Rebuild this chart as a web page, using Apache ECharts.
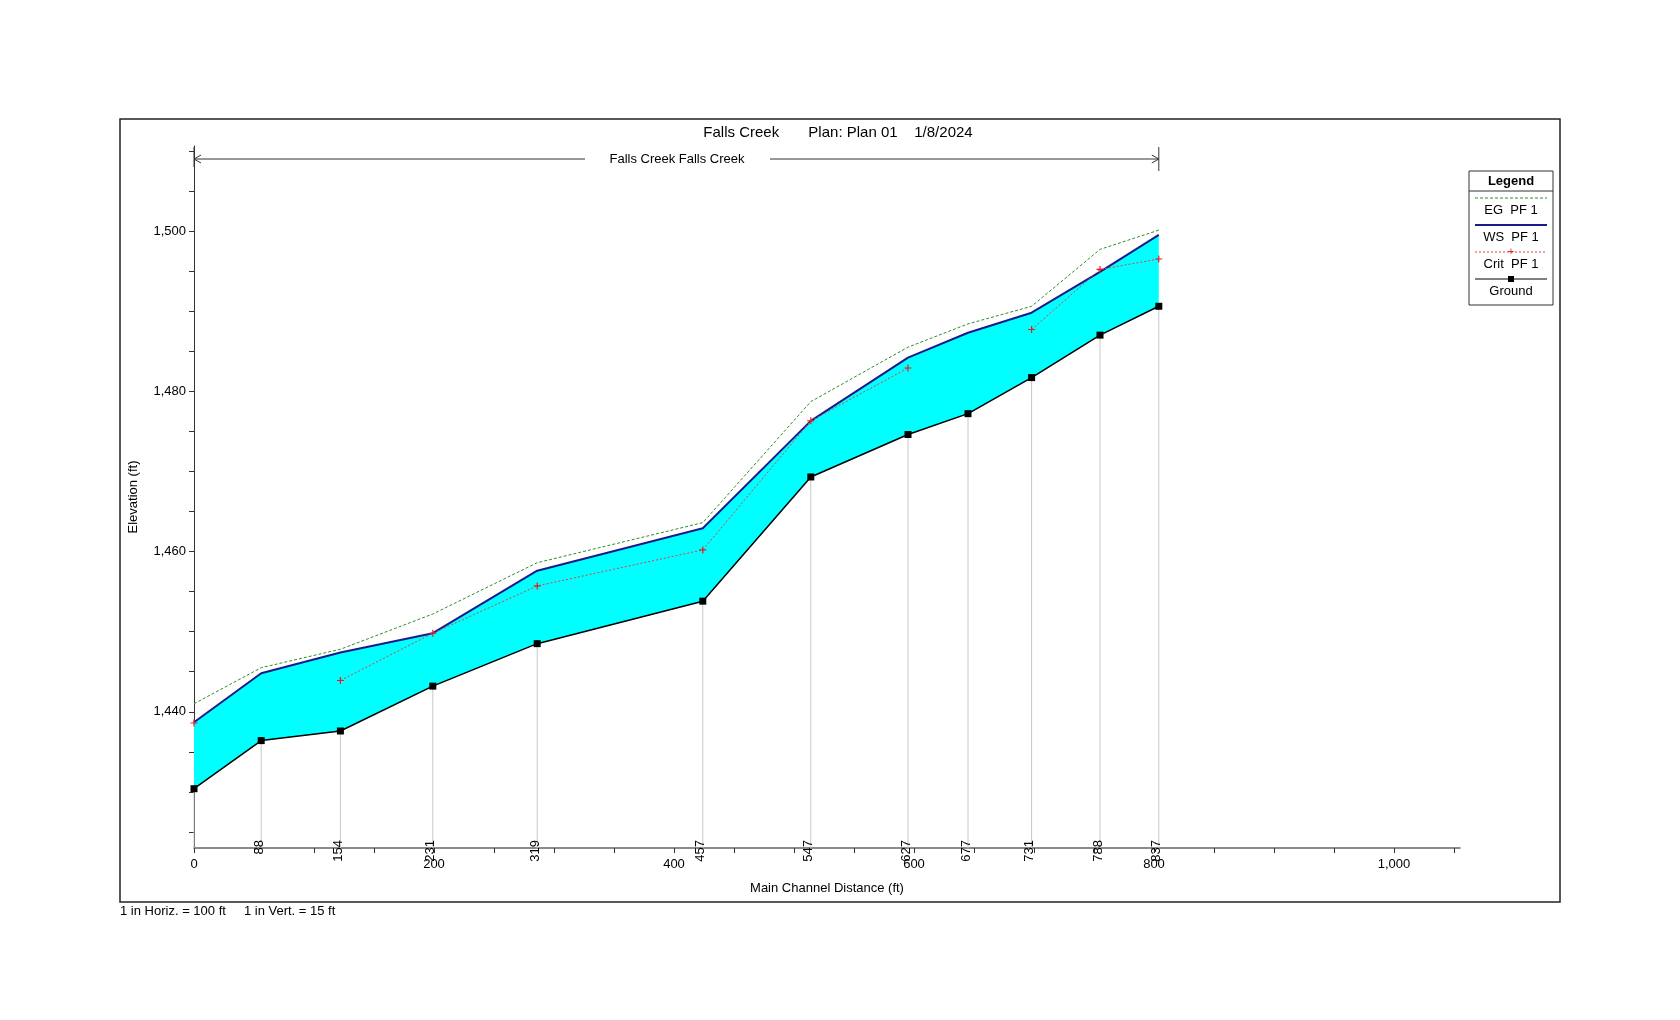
<!DOCTYPE html>
<html><head><meta charset="utf-8">
<script src="https://cdn.jsdelivr.net/npm/echarts@6/dist/echarts.min.js"></script>
<style>html,body{margin:0;background:#fff}#c{width:1680px;height:1020px}</style>
</head><body><div id="c"></div>
<script>
// main channel distance (ft) and river stations
var dist = [0, 56, 122, 199, 286, 424, 514, 595, 645, 698, 755, 804]
var stations = ['', '88', '154', '231', '319', '457', '547', '627', '677', '731', '788', '837']
var ground = [1430.4, 1436.4, 1437.6, 1443.2, 1448.5, 1453.8, 1469.3, 1474.6, 1477.2, 1481.7, 1487.0, 1490.6]
var ws = [1438.7, 1444.8, 1447.4, 1449.8, 1457.6, 1462.9, 1476.3, 1484.2, 1487.3, 1489.8, 1494.9, 1499.5]
var eg = [1441.0, 1445.5, 1447.8, 1452.2, 1458.6, 1463.6, 1478.7, 1485.5, 1488.4, 1490.6, 1497.7, 1500.1]
var crit = [1438.6, null, 1443.9, 1449.8, 1455.7, 1460.2, 1476.3, 1482.9, null, 1487.7, 1495.2, 1496.5]
var yLabels = [1440, 1460, 1480, 1500]
var xLabels = [0, 200, 400, 600, 800, 1000]

function pairs(arr) { return dist.map(function (d, i) { return [d, arr[i]] }) }
var yTicks = []
for (var v = 1425; v <= 1510; v += 5) yTicks.push(v)
var xTicks = []
for (var v = 0; v <= 1050; v += 50) xTicks.push(v)

var chart = echarts.init(document.getElementById('c'))
var font = 'Liberation Sans'
var YMIN = 1423

var option = {
  animation: false,
  textStyle: { fontFamily: font },
  grid: { left: 194, right: 220, top: 146, bottom: 172 },
  xAxis: {
    type: 'value', min: 0, max: 1055,
    name: 'Main Channel Distance (ft)', nameLocation: 'middle', nameGap: 34,
    nameTextStyle: { color: '#000', fontSize: 13 },
    axisLine: { lineStyle: { color: '#666', width: 1.5 } },
    axisTick: { customValues: xTicks, length: 5, lineStyle: { color: '#333' } },
    axisLabel: { customValues: xLabels, color: '#000', fontSize: 13, margin: 10 },
    splitLine: { show: false }
  },
  yAxis: {
    type: 'value', min: YMIN, max: 1510.6,
    name: 'Elevation (ft)', nameLocation: 'middle', nameGap: 54,
    nameTextStyle: { color: '#000', fontSize: 13 },
    axisLine: { show: true, lineStyle: { color: '#333' } },
    axisTick: { show: true, customValues: yTicks, length: 5, lineStyle: { color: '#333' } },
    axisLabel: { customValues: yLabels, color: '#000', fontSize: 13 },
    splitLine: { show: false }
  },
  series: [
    {
      // water between ground and WS
      type: 'custom', z: 1, silent: true,
      data: [0],
      renderItem: function (params, api) {
        var pts = []
        for (var i = 0; i < dist.length; i++) pts.push(api.coord([dist[i], ws[i]]))
        for (var i = dist.length - 1; i >= 0; i--) pts.push(api.coord([dist[i], ground[i]]))
        return { type: 'polygon', shape: { points: pts }, style: { fill: '#00ffff' } }
      }
    },
    {
      // station lines and labels
      type: 'custom', z: 2, silent: true,
      data: pairs(ground),
      renderItem: function (params, api) {
        var top = api.coord([api.value(0), api.value(1)])
        var bot = api.coord([api.value(0), YMIN])
        var name = stations[params.dataIndex]
        return {
          type: 'group', children: [
            { type: 'line', shape: { x1: top[0], y1: top[1], x2: bot[0], y2: bot[1] }, style: { stroke: '#c8c8c8', lineWidth: 1 } },
            { type: 'text', x: top[0] - 2, y: bot[1] - 8, rotation: Math.PI / 2,
              style: { text: name, fontSize: 13, fontFamily: font, fill: '#000', align: 'right', verticalAlign: 'middle' } }
          ]
        }
      }
    },
    { name: 'EG PF 1', type: 'line', z: 3, data: pairs(eg), symbol: 'none',
      lineStyle: { color: '#2e8b2e', width: 1, type: [3, 2] } },
    { name: 'WS PF 1', type: 'line', z: 4, data: pairs(ws), symbol: 'none',
      lineStyle: { color: '#1a1a8c', width: 2 } },
    { name: 'Crit PF 1', type: 'line', z: 5, data: pairs(crit), connectNulls: false,
      symbol: 'path://M-1,0L1,0M0,-1L0,1', symbolSize: 7,
      itemStyle: { color: '#e02020', borderColor: '#e02020', borderWidth: 1.2 },
      lineStyle: { color: '#e04040', width: 1, type: [2, 2] } },
    { name: 'Ground', type: 'line', z: 6, data: pairs(ground), symbol: 'rect', symbolSize: 7,
      itemStyle: { color: '#000' }, lineStyle: { color: '#000', width: 1.5 } }
  ]
}
chart.setOption(option)

var p0 = chart.convertToPixel({ gridIndex: 0 }, [0, 1510.6])
var p1 = chart.convertToPixel({ gridIndex: 0 }, [804, 1510.6])
var ay = 159
var lx = 1469, ly = 171, lw = 84, rowH = 27
var legendItems = [
  { label: 'EG  PF 1', color: '#2e8b2e', dash: [3, 2], mark: null },
  { label: 'WS  PF 1', color: '#1a1a8c', dash: null, mark: null, w: 2 },
  { label: 'Crit  PF 1', color: '#e04040', dash: [2, 2], mark: 'plus' },
  { label: 'Ground', color: '#000', dash: null, mark: 'rect' }
]
var g = [
  { type: 'rect', shape: { x: 120, y: 119, width: 1440, height: 783 }, style: { fill: 'none', stroke: '#222', lineWidth: 1.5 } },
  { type: 'text', x: 838, y: 133, style: { text: 'Falls Creek       Plan: Plan 01    1/8/2024', fontSize: 15, fontFamily: font, fill: '#000', align: 'center', verticalAlign: 'middle' } },
  { type: 'line', shape: { x1: p0[0], y1: ay, x2: 585, y2: ay }, style: { stroke: '#333', lineWidth: 1 } },
  { type: 'line', shape: { x1: 770, y1: ay, x2: p1[0], y2: ay }, style: { stroke: '#333', lineWidth: 1 } },
  { type: 'polyline', shape: { points: [[p0[0] + 7, ay - 4], [p0[0], ay], [p0[0] + 7, ay + 4]] }, style: { stroke: '#333', fill: 'none' } },
  { type: 'polyline', shape: { points: [[p1[0] - 7, ay - 4], [p1[0], ay], [p1[0] - 7, ay + 4]] }, style: { stroke: '#333', fill: 'none' } },
  { type: 'line', shape: { x1: p0[0], y1: ay - 12, x2: p0[0], y2: ay + 8 }, style: { stroke: '#333' } },
  { type: 'line', shape: { x1: p1[0], y1: ay - 12, x2: p1[0], y2: ay + 12 }, style: { stroke: '#333' } },
  { type: 'text', x: 677, y: ay, style: { text: 'Falls Creek Falls Creek', fontSize: 13, fontFamily: font, fill: '#000', align: 'center', verticalAlign: 'middle' } },
  { type: 'text', x: 120, y: 911, style: { text: '1 in Horiz. = 100 ft     1 in Vert. = 15 ft', fontSize: 13, fontFamily: font, fill: '#000', verticalAlign: 'middle' } },
  { type: 'rect', shape: { x: lx, y: ly, width: lw, height: 134 }, style: { fill: '#fff', stroke: '#333', lineWidth: 1 } },
  { type: 'text', x: lx + lw / 2, y: ly + 10, style: { text: 'Legend', fontSize: 13, fontWeight: 'bold', fontFamily: font, fill: '#000', align: 'center', verticalAlign: 'middle' } },
  { type: 'line', shape: { x1: lx, y1: ly + 20, x2: lx + lw, y2: ly + 20 }, style: { stroke: '#333' } }
]
legendItems.forEach(function (it, i) {
  var yl = ly + 27 + i * rowH
  g.push({ type: 'line', shape: { x1: lx + 6, y1: yl, x2: lx + lw - 6, y2: yl }, style: { stroke: it.color, lineWidth: it.w || 1, lineDash: it.dash } })
  if (it.mark === 'plus') g.push({ type: 'text', x: lx + lw / 2, y: yl, style: { text: '+', fontSize: 11, fill: '#e02020', align: 'center', verticalAlign: 'middle' } })
  if (it.mark === 'rect') g.push({ type: 'rect', shape: { x: lx + lw / 2 - 3, y: yl - 3, width: 6, height: 6 }, style: { fill: '#000' } })
  g.push({ type: 'text', x: lx + lw / 2, y: yl + 12, style: { text: it.label, fontSize: 13, fontFamily: font, fill: '#000', align: 'center', verticalAlign: 'middle' } })
})
chart.setOption({ graphic: g })
</script>
</body></html>
